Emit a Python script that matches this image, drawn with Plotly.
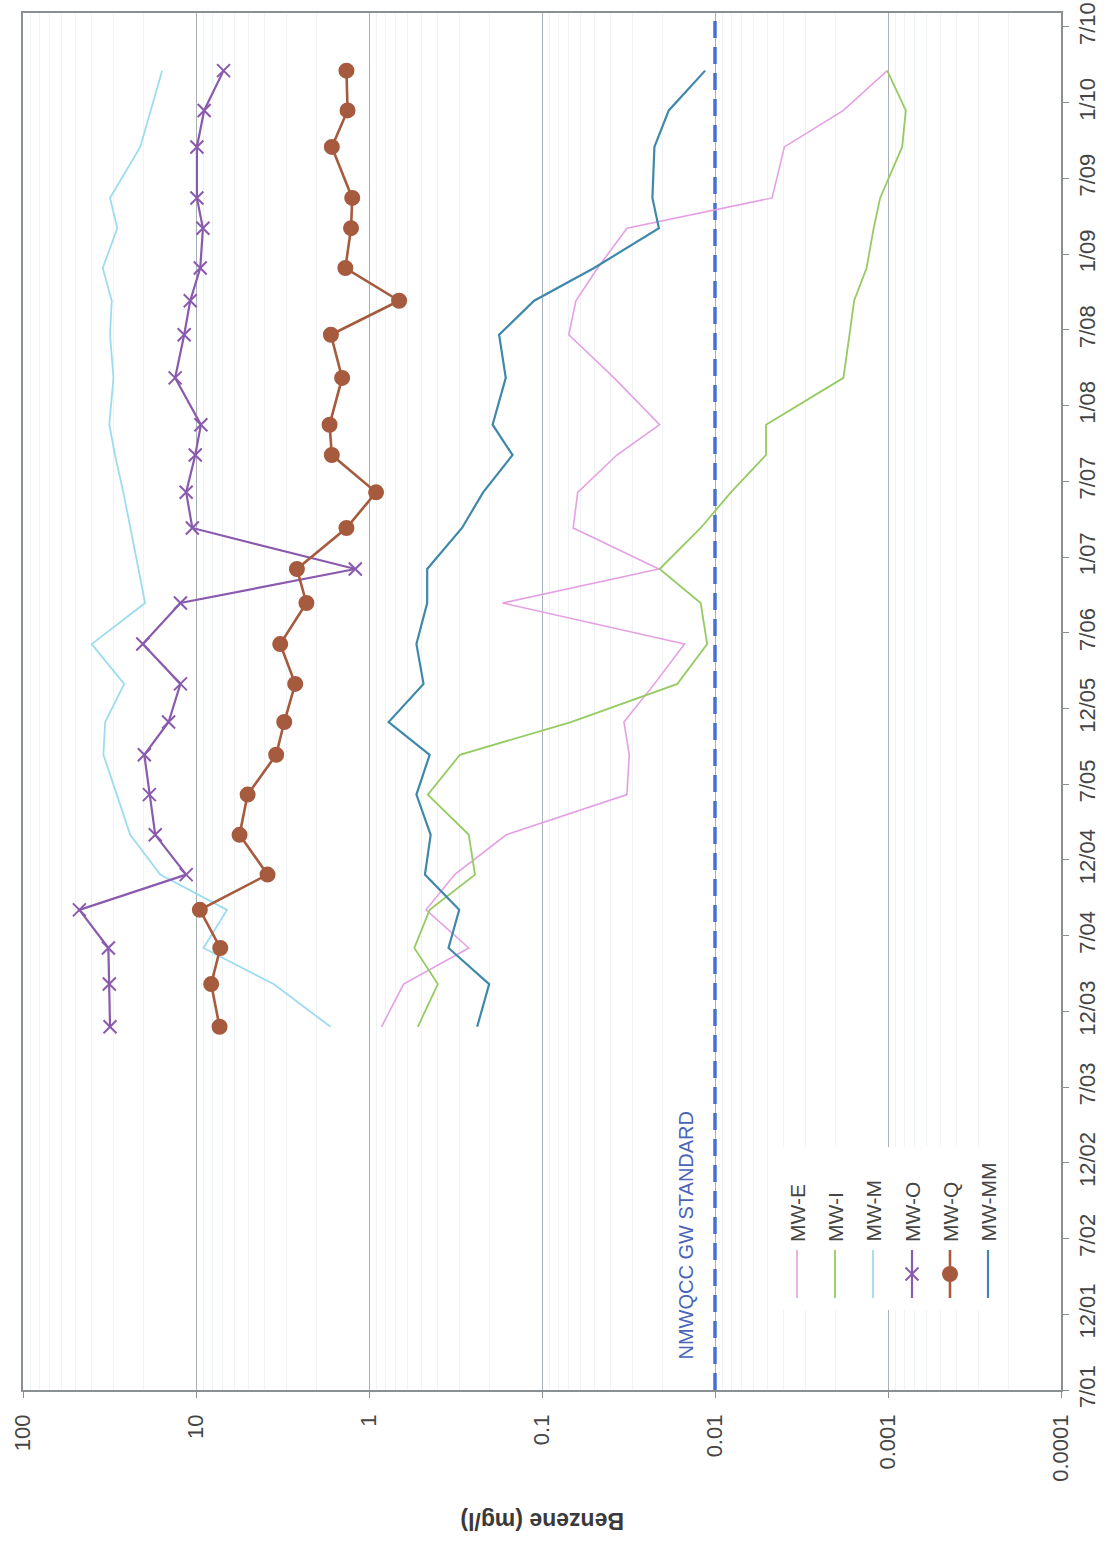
import numpy as np
import pandas as pd
import plotly.graph_objects as go

# ---- sampling events (oldest first) -------------------------------------
SAMPLE_DATES = [
    "2003-11-24", "2004-03-06", "2004-06-01", "2004-09-01", "2004-11-25",
    "2005-03-01", "2005-06-06", "2005-09-10", "2005-11-28", "2006-02-28",
    "2006-06-04", "2006-09-11", "2006-12-02", "2007-03-11", "2007-06-05",
    "2007-09-03", "2007-11-15", "2008-03-07", "2008-06-19", "2008-09-09",
    "2008-11-27", "2009-03-03", "2009-05-15", "2009-09-15", "2009-12-12",
    "2010-03-18",
]

# ---- benzene concentrations, mg/l ---------------------------------------
MW_E = [0.847, 0.631, 0.265, 0.468, 0.320, 0.161, 0.0323, 0.0313, 0.0336, 0.0224,
        0.0150, 0.169, 0.0211, 0.066, 0.0622, 0.0369, 0.0209, 0.0383, 0.070, 0.0637,
        0.0477, 0.0323, 0.00468, 0.00397, 0.00181, 0.00101]
MW_I = [0.522, 0.400, 0.547, 0.446, 0.244, 0.265, 0.457, 0.298, 0.068, 0.0165,
        0.0111, 0.0121, 0.0209, 0.0121, 0.0081, 0.00507, 0.00507, 0.00181, 0.00167, 0.00157,
        0.00133, 0.00121, 0.00111, 0.000828, 0.000789, 0.00101]
MW_M = [1.67, 3.56, 9.05, 6.62, 16.1, 24.0, 28.7, 34.3, 33.5, 26.0,
        40.1, 19.7, 21.5, 24.0, 26.3, 29.4, 31.7, 30.0, 31.4, 30.7,
        34.6, 28.5, 31.4, 21.0, 18.2, 15.7]
MW_O = [31.4, 31.7, 32.1, 47.2, 11.4, 17.2, 18.6, 19.9, 14.4, 12.3,
        20.3, 12.3, 1.20, 10.5, 11.4, 10.1, 9.37, 13.2, 11.7, 10.8,
        9.45, 9.12, 9.88, 9.88, 8.97, 6.93]
MW_Q = [7.31, 8.17, 7.24, 9.5, 3.86, 5.60, 5.03, 3.44, 3.09, 2.67,
        3.26, 2.30, 2.61, 1.35, 0.91, 1.64, 1.69, 1.43, 1.66, 0.67,
        1.37, 1.27, 1.25, 1.64, 1.33, 1.35]
MW_MM = [0.237, 0.202, 0.347, 0.301, 0.475, 0.440, 0.532, 0.446, 0.77, 0.484,
         0.532, 0.461, 0.461, 0.29, 0.219, 0.148, 0.193, 0.162, 0.177, 0.111,
         0.05, 0.0211, 0.0230, 0.0224, 0.0185, 0.0114]

GW_STANDARD = 0.01  # NMWQCC groundwater standard for benzene, mg/l

SERIES_NAMES = ["MW-E", "MW-I", "MW-M", "MW-O", "MW-Q", "MW-MM"]

CONC_TICKS = [100, 10, 1, 0.1, 0.01, 0.001, 0.0001]
CONC_TICK_LABELS = ["100", "10", "1", "0.1", "0.01", "0.001", "0.0001"]

TIME_TICK_LABELS = ["7/01", "12/01", "7/02", "12/02", "7/03", "12/03", "7/04",
                    "12/04", "7/05", "12/05", "7/06", "1/07", "7/07", "1/08",
                    "7/08", "1/09", "7/09", "1/10", "7/10"]
TIME_START = "2001-07-01"

# ---- styling ------------------------------------------------------------
FONT = "Liberation Sans, Arial, sans-serif"
TEXT = "#454545"
STYLES = {
    "MW-E": dict(color="#e4a0e4", width=1.6, symbol=None),
    "MW-I": dict(color="#95cb62", width=1.8, symbol=None),
    "MW-M": dict(color="#9ddcf0", width=1.8, symbol=None),
    "MW-O": dict(color="#8a5aae", width=2.2, symbol="x-thin"),
    "MW-Q": dict(color="#a65a3e", width=2.6, symbol="circle"),
    "MW-MM": dict(color="#3f88aa", width=2.2, symbol=None),
}
SERIES = dict(zip(SERIES_NAMES, [MW_E, MW_I, MW_M, MW_O, MW_Q, MW_MM]))
marker_sizes = {"x-thin": 13, "circle": 14}

# time axis: evenly spaced half-year ticks
start = pd.Timestamp(TIME_START)
step = pd.Timedelta(days=182.625)
time_ticks = [(start + i * step).strftime("%Y-%m-%d %H:%M") for i in range(len(TIME_TICK_LABELS))]
time_end = (start + 18.19 * step).strftime("%Y-%m-%d")

fig = go.Figure()

# standard line
fig.add_trace(go.Scatter(
    x=[GW_STANDARD, GW_STANDARD], y=[TIME_START, time_end], mode="lines",
    line=dict(color="#4a6fd0", width=3.5, dash="17px,9px"),
    showlegend=False, hoverinfo="skip"))

for name in SERIES_NAMES:
    st = STYLES[name]
    kw = {}
    if st["symbol"]:
        kw["marker"] = dict(symbol=st["symbol"], size=marker_sizes[st["symbol"]],
                            color=st["color"], line=dict(color=st["color"], width=2))
        mode = "lines+markers"
    else:
        mode = "lines"
    fig.add_trace(go.Scatter(x=SERIES[name], y=SAMPLE_DATES, mode=mode, name=name,
                             line=dict(color=st["color"], width=st["width"]),
                             showlegend=False, **kw))

# ---- legend drawn in a pixel-space overlay (rotated layout) --------------
PX_LEFT, PX_RIGHT, PX_TOP, PX_BOTTOM = 23, 1061, 13, 1390

# white legend panel (hides the grid behind it)
box_x0, box_x1, box_y0, box_y1 = 772, 1008, 1147, 1310
fig.add_trace(go.Scatter(x=[box_x0, box_x1, box_x1, box_x0, box_x0],
                         y=[box_y0, box_y0, box_y1, box_y1, box_y0],
                         mode="lines", fill="toself", fillcolor="white",
                         line=dict(width=0, color="white"),
                         xaxis="x2", yaxis="y2", showlegend=False, hoverinfo="skip"))

legend_x = [797, 835, 873, 912, 950, 988]
for name, lx in zip(SERIES_NAMES, legend_x):
    st = STYLES[name]
    fig.add_trace(go.Scatter(x=[lx, lx], y=[1298, 1250], mode="lines",
                             line=dict(color=st["color"], width=st["width"]),
                             xaxis="x2", yaxis="y2", showlegend=False, hoverinfo="skip"))
    if st["symbol"]:
        fig.add_trace(go.Scatter(x=[lx], y=[1274], mode="markers",
                                 marker=dict(symbol=st["symbol"], size=marker_sizes[st["symbol"]],
                                             color=st["color"], line=dict(color=st["color"], width=2)),
                                 xaxis="x2", yaxis="y2", showlegend=False, hoverinfo="skip"))
    fig.add_annotation(x=lx, y=1244, xref="x2", yref="y2", text=name, showarrow=False,
                       textangle=-90, xanchor="center", yanchor="bottom",
                       font=dict(family=FONT, size=21, color=TEXT))

fig.add_annotation(x=685, y=1362, xref="x2", yref="y2", text="NMWQCC GW STANDARD",
                   showarrow=False, textangle=-90, xanchor="center", yanchor="bottom",
                   font=dict(family=FONT, size=20, color="#4a64b8"))

# axis title, upside-down as on the turned page
fig.add_annotation(x=0.5, y=-(1521 - PX_BOTTOM) / (PX_BOTTOM - PX_TOP),
                   xref="paper", yref="paper", xanchor="center", yanchor="middle",
                   text="<b>Benzene (mg/l)</b>", showarrow=False, textangle=180,
                   font=dict(family=FONT, size=23, color="#3a3a3a"))

minor_vals = [m * 10.0 ** e for e in range(-4, 2) for m in range(2, 10)]

fig.update_layout(
    width=1104, height=1542,
    margin=dict(l=PX_LEFT, r=1104 - PX_RIGHT, t=PX_TOP, b=1542 - PX_BOTTOM, autoexpand=False),
    paper_bgcolor="white", plot_bgcolor="white",
    font=dict(family=FONT, color=TEXT),
    xaxis=dict(type="log", range=[2, -4], tickvals=CONC_TICKS, ticktext=CONC_TICK_LABELS,
               tickangle=-90, tickfont=dict(size=22, color=TEXT), automargin=False,
               showgrid=True, gridcolor="#a9b1b6", gridwidth=1,
               minor=dict(tickvals=minor_vals, showgrid=True, gridcolor="#f0f3f5", ticks=""),
               showline=True, linecolor="#8a8f92", linewidth=1.5, mirror=True,
               ticks="outside", ticklen=6, tickcolor="#8a8f92", zeroline=False,
               ticklabelstandoff=8),
    yaxis=dict(type="date", range=[TIME_START, time_end], side="right",
               tickvals=time_ticks, ticktext=TIME_TICK_LABELS, tickangle=-90,
               tickfont=dict(size=22, color=TEXT), showgrid=False, automargin=False,
               showline=True, linecolor="#8a8f92", linewidth=1.5, mirror=True,
               ticks="outside", ticklen=6, tickcolor="#8a8f92"),
    xaxis2=dict(overlaying="x", range=[PX_LEFT, PX_RIGHT], visible=False, anchor="y2"),
    yaxis2=dict(overlaying="y", range=[PX_BOTTOM, PX_TOP], visible=False, anchor="x2"),
)

fig.write_html("out.html")
